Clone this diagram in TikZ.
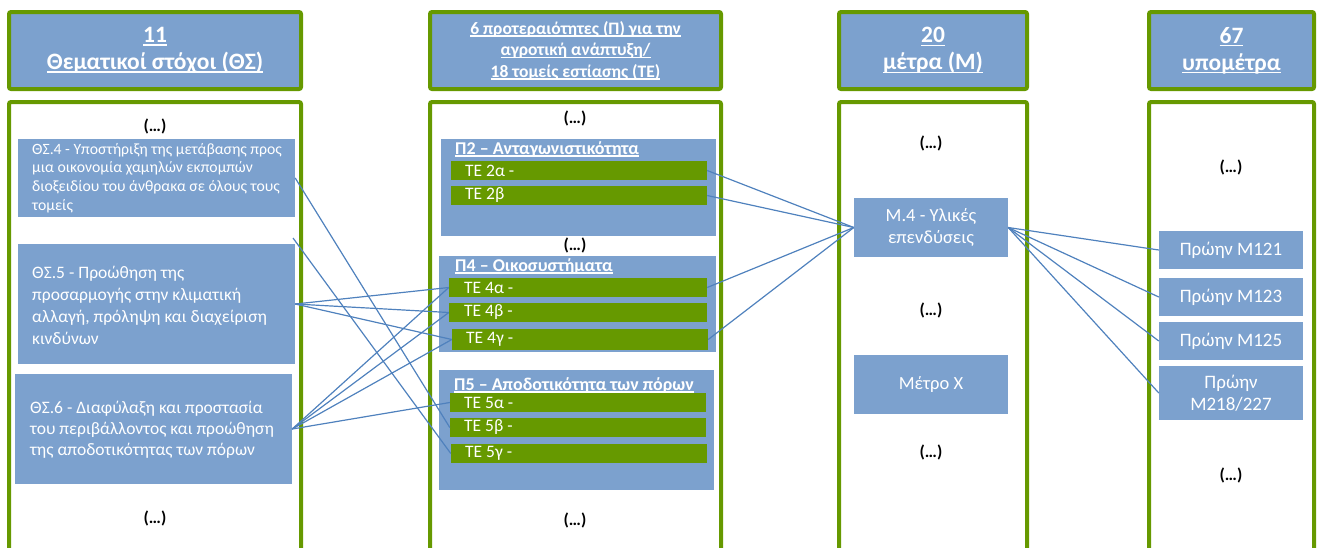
\documentclass[tikz,border=0pt]{standalone}
\usepackage{fontspec}
\setmainfont{Carlito}
\newcommand{\myul}[1]{\leavevmode\setbox0=\hbox{#1}\rlap{\rule[-0.14em]{\wd0}{0.065em}}\box0}
\definecolor{boxblue}{RGB}{124,161,206}
\definecolor{grn}{RGB}{102,153,0}
\definecolor{lineblue}{RGB}{79,129,189}
\tikzset{
  hdr/.style={draw=grn, line width=4pt, fill=boxblue, rounded corners=2pt, text=white, align=center, inner sep=0pt},
  colbody/.style={draw=grn, line width=4pt, fill=white, rounded corners=2pt},
  bbox/.style={fill=boxblue, inner sep=0pt},
  gbar/.style={fill=grn, inner sep=0pt},
  wtext/.style={text=white, inner sep=0pt, anchor=west, align=left},
  ctext/.style={fill=boxblue, text=white, inner sep=0pt, align=center},
  dots/.style={font=\fontsize{17}{20}\selectfont\bfseries, inner sep=0pt},
  ptitle/.style={text=white, inner sep=0pt, anchor=west, font=\fontsize{18}{21}\selectfont\bfseries},
  conn/.style={draw=lineblue, line width=1.2pt},
}
\newcommand{\tefont}{\fontsize{17.5}{19}\selectfont}
\begin{document}
\begin{tikzpicture}[x=1pt,y=-1pt]
\useasboundingbox (0,0) rectangle (1319,547);
\clip (0,0) rectangle (1319,547);

% column bodies
\draw[colbody] (9,102) rectangle (301,620);
\draw[colbody] (430,102) rectangle (721,620);
\draw[colbody] (839,102) rectangle (1027,620);
\draw[colbody] (1149,102) rectangle (1314,620);

% headers
\node[hdr, minimum width=292pt, minimum height=77pt, font=\fontsize{23.5}{27}\selectfont\bfseries] (h1) at (155,50.5)
  {\myul{11}\\\myul{Θεματικοί στόχοι (ΘΣ)}};
\node[hdr, minimum width=291pt, minimum height=77pt, font=\fontsize{17.5}{21.5}\selectfont\bfseries] (h2) at (575.5,50.5)
  {\myul{6 προτεραιότητες (Π) για την}\\\myul{αγροτική ανάπτυξη/}\\\myul{18 τομείς εστίασης (ΤΕ)}};
\node[hdr, minimum width=188pt, minimum height=77pt, font=\fontsize{23.5}{27}\selectfont\bfseries] (h3) at (933,50.5)
  {\myul{20}\\\myul{μέτρα (Μ)}};
\node[hdr, minimum width=165pt, minimum height=77pt, font=\fontsize{23.5}{27}\selectfont\bfseries] (h4) at (1231.5,50.5)
  {\myul{67}\\\myul{υπομέτρα}};

% column 1
\node[dots] (d1a) at (155,126) {(…)};
\node[bbox, minimum width=277pt, minimum height=78pt] (t4) at (156.5,178) {};
\node[wtext, font=\fontsize{15.7}{18.7}\selectfont] (t4x) at (32,178)
  {ΘΣ.4 - Υποστήριξη της μετάβασης προς\\μια οικονομία χαμηλών εκπομπών\\διοξειδίου του άνθρακα σε όλους τους\\τομείς};
\node[bbox, minimum width=277pt, minimum height=120pt] (t5) at (156.5,304) {};
\node[wtext, font=\fontsize{17.5}{22}\selectfont] (t5x) at (32,305)
  {ΘΣ.5 - Προώθηση της\\προσαρμογής στην κλιματική\\αλλαγή, πρόληψη και διαχείριση\\κινδύνων};
\node[bbox, minimum width=277pt, minimum height=110pt] (t6) at (153.5,429) {};
\node[wtext, font=\fontsize{17.5}{21}\selectfont] (t6x) at (30,430)
  {ΘΣ.6 - Διαφύλαξη και προστασία\\του περιβάλλοντος και προώθηση\\της αποδοτικότητας των πόρων};
\node[dots] (d1b) at (155,518) {(…)};
\coordinate (free1) at (293,238);

% column 2
\node[dots] (d2a) at (575,118) {(…)};
\node[bbox, minimum width=275pt, minimum height=97pt] (p2) at (578.5,187.5) {};
\node[ptitle] (p2t) at (455,149) {\myul{Π2 – Ανταγωνιστικότητα}};
\node[gbar, minimum width=256pt, minimum height=19pt] (te2a) at (579,170.5) {};
\node[wtext, font=\tefont] (te2ax) at (465,170.5) {ΤΕ 2α -};
\node[gbar, minimum width=256pt, minimum height=19pt] (te2b) at (579,195.5) {};
\node[wtext, font=\tefont] (te2bx) at (465,195.5) {ΤΕ 2β};
\node[dots] (d2b) at (575,245) {(…)};

\node[bbox, minimum width=277pt, minimum height=96pt] (p4) at (577.5,304) {};
\node[ptitle] (p4t) at (455,266) {\myul{Π4 – Οικοσυστήματα}};
\node[gbar, minimum width=258pt, minimum height=19pt] (te4a) at (578,287.5) {};
\node[wtext, font=\tefont] (te4ax) at (464,287.5) {ΤΕ 4α -};
\node[gbar, minimum width=258pt, minimum height=19pt] (te4b) at (578,312.5) {};
\node[wtext, font=\tefont] (te4bx) at (464,312.5) {ΤΕ 4β -};
\node[gbar, minimum width=256pt, minimum height=21pt] (te4g) at (580,339.5) {};
\node[wtext, font=\tefont] (te4gx) at (466,339.5) {ΤΕ 4γ -};

\node[bbox, minimum width=275pt, minimum height=120pt] (p5) at (576.5,430) {};
\node[ptitle] (p5t) at (454,385) {\myul{Π5 – Αποδοτικότητα των πόρων}};
\node[gbar, minimum width=256pt, minimum height=19pt] (te5a) at (578,402.5) {};
\node[wtext, font=\tefont] (te5ax) at (464,402.5) {ΤΕ 5α -};
\node[gbar, minimum width=256pt, minimum height=19pt] (te5b) at (578,427.5) {};
\node[wtext, font=\tefont] (te5bx) at (464,427.5) {ΤΕ 5β -};
\node[gbar, minimum width=256pt, minimum height=19pt] (te5g) at (579,453.5) {};
\node[wtext, font=\tefont] (te5gx) at (465,453.5) {ΤΕ 5γ -};
\node[dots] (d2c) at (575,520) {(…)};

% column 3
\node[dots] (d3a) at (931,143) {(…)};
\node[ctext, minimum width=154pt, minimum height=59pt, font=\fontsize{18.5}{22}\selectfont] (m4) at (931,227.5)
  {Μ.4 - Υλικές\\επενδύσεις};
\node[dots] (d3b) at (931,310) {(…)};
\node[ctext, minimum width=154pt, minimum height=59pt, font=\fontsize{18.5}{22}\selectfont] (mx) at (931,384.5)
  {Μέτρο Χ};
\node[dots] (d3c) at (931,452) {(…)};

% column 4
\node[dots] (d4a) at (1231,167) {(…)};
\node[ctext, minimum width=144pt, minimum height=38pt, font=\fontsize{19}{21.5}\selectfont] (s121) at (1231,250) {Πρώην Μ121};
\node[ctext, minimum width=144pt, minimum height=38pt, font=\fontsize{19}{21.5}\selectfont] (s123) at (1231,297) {Πρώην Μ123};
\node[ctext, minimum width=144pt, minimum height=38pt, font=\fontsize{19}{21.5}\selectfont] (s125) at (1231,341) {Πρώην Μ125};
\node[ctext, minimum width=144pt, minimum height=54pt, font=\fontsize{19}{21.5}\selectfont] (s218) at (1231,393) {Πρώην\\Μ218/227};
\node[dots] (d4b) at (1231,475) {(…)};

% connectors
\draw[conn] (t4.east) -- (te5b.west);
\draw[conn] (free1) -- (te5g.west);
\draw[conn] (t5.east) -- (te4a.west);
\draw[conn] (t5.east) -- (te4b.west);
\draw[conn] (t5.east) -- (te4g.west);
\draw[conn] (t6.east) -- (te4a.west);
\draw[conn] (t6.east) -- (te4b.west);
\draw[conn] (t6.east) -- (te4g.west);
\draw[conn] (t6.east) -- (te5a.west);
\draw[conn] (te2a.east) -- (m4.west);
\draw[conn] (te2b.east) -- (m4.west);
\draw[conn] (te4a.east) -- (m4.west);
\draw[conn] (te4g.east) -- (m4.west);
\draw[conn] (m4.east) -- (s121.west);
\draw[conn] (m4.east) -- (s123.west);
\draw[conn] (m4.east) -- (s125.west);
\draw[conn] (m4.east) -- (s218.west);
\end{tikzpicture}
\end{document}
